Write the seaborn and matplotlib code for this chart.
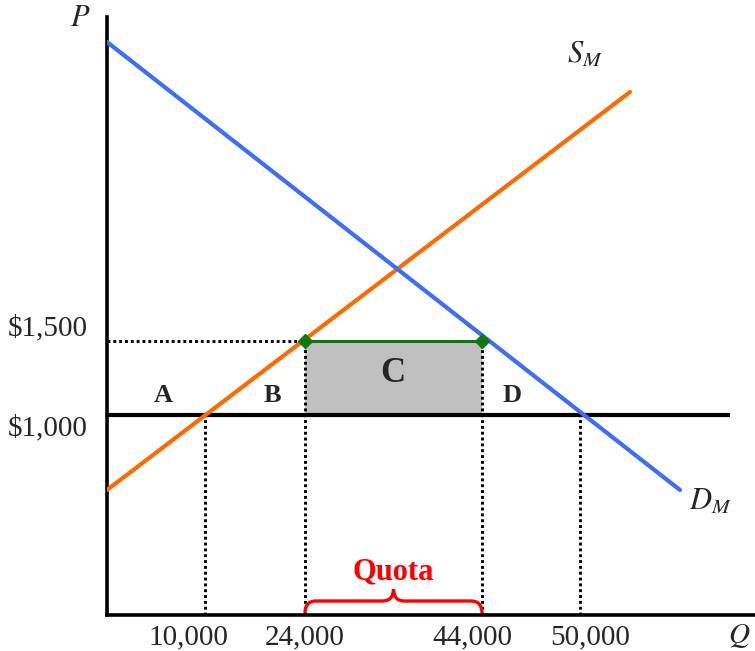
import numpy as np
import pandas as pd
import seaborn as sns
import matplotlib.pyplot as plt
from matplotlib.path import Path
from matplotlib.patches import PathPatch

# ----- schematic data (plot units ~ pixels from the origin) -----
supply_q = [0, 523]
supply_p = [125, 523]
demand_q = [0, 573]
demand_p = [573, 125]

world_price = 200        # $1,000
tariff_price = 274       # $1,500
world_line_end = 623

q_marks = [98, 198, 375, 473]
q_labels = ["10,000", "24,000", "44,000", "50,000"]
q_label_shift = [-17, 0, -10, 10]   # px nudges of the labels

p_marks = [tariff_price, world_price]
p_labels = ["$1,500", "$1,000"]
p_label_shift = [13, -13]

area_names = ["A", "B", "C", "D"]
area_q = [56, 165, 286, 405]
area_p = [220, 220, 242, 220]

BLUE = "#3d6ef5"
ORANGE = "#ff6a00"
GREEN = "#0b7a0b"

sns.set_theme(style="white")
plt.rcParams["font.family"] = ["Liberation Serif", "DejaVu Serif"]
plt.rcParams["mathtext.fontset"] = "stix"

fig = plt.figure(figsize=(7.55, 6.51), dpi=100)
ax = fig.add_axes([107 / 755, 36 / 651, 648 / 755, 598 / 651])
ax.set_xlim(0, 648)
ax.set_ylim(0, 598)

# gray area C
ax.fill_between([q_marks[1], q_marks[2]], world_price, tariff_price,
                color="#c0c0c0", zorder=1, linewidth=0)

dots = (0, (1, 1))
ax.plot([0, q_marks[2]], [tariff_price, tariff_price], color="black",
        lw=2.1, ls=dots, zorder=2)
for q in q_marks[1:3]:
    ax.plot([q, q], [0, tariff_price], color="black", lw=2.1, ls=dots, zorder=2)
for q in (q_marks[0], q_marks[3]):
    ax.plot([q, q], [0, world_price], color="black", lw=2.1, ls=dots, zorder=2)

# world price line
ax.plot([0, world_line_end], [world_price, world_price], color="black",
        lw=3, zorder=3, solid_capstyle="butt")

df_s = pd.DataFrame({"q": supply_q, "p": supply_p})
df_d = pd.DataFrame({"q": demand_q, "p": demand_p})
sns.lineplot(data=df_s, x="q", y="p", color=ORANGE, lw=3, sort=False, ax=ax, zorder=4)
sns.lineplot(data=df_d, x="q", y="p", color=BLUE, lw=3, sort=False, ax=ax, zorder=4)
ax.set_xlabel("")
ax.set_ylabel("")

# quota segment with diamonds
ax.plot([q_marks[1], q_marks[2]], [tariff_price, tariff_price], color=GREEN,
        lw=2.2, marker="D", markersize=7.5, zorder=5)

# red brace under the quota
x0, x1 = q_marks[1], q_marks[2]
xm = (x0 + x1) / 2
r, y0, h = 11, 2, 24
verts = [(x0, y0), (x0, y0 + h / 2), (x0 + r, y0 + h / 2),
         (xm - r, y0 + h / 2),
         (xm, y0 + h / 2), (xm, y0 + h),
         (xm, y0 + h / 2), (xm + r, y0 + h / 2),
         (x1 - r, y0 + h / 2),
         (x1, y0 + h / 2), (x1, y0)]
codes = [Path.MOVETO, Path.CURVE3, Path.CURVE3, Path.LINETO,
         Path.CURVE3, Path.CURVE3, Path.CURVE3, Path.CURVE3,
         Path.LINETO, Path.CURVE3, Path.CURVE3]
ax.add_patch(PathPatch(Path(verts, codes), fill=False, edgecolor="red",
                       lw=2.4, zorder=5, clip_on=False))
ax.text(xm, 43, "Quota", color="red", fontsize=22, fontweight="bold",
        ha="center", va="center")

for name, q, p in zip(area_names, area_q, area_p):
    ax.text(q, p, name, fontsize=25 if name == "C" else 19, fontweight="bold",
            ha="center", va="center", zorder=6)

# axis tick labels as text so they can sit where the original puts them
ax.set_xticks([])
ax.set_yticks([])
for q, lab, dx in zip(q_marks, q_labels, q_label_shift):
    ax.annotate(lab, (q, 0), xytext=(dx * 0.72, -16), textcoords="offset points",
                ha="center", va="center", fontsize=21, annotation_clip=False)
for p, lab, dy in zip(p_marks, p_labels, p_label_shift):
    ax.annotate(lab, (0, p), xytext=(-14, dy * 0.72), textcoords="offset points",
                ha="right", va="center", fontsize=21, annotation_clip=False)

ax.text(-27, 597, "$P$", fontsize=22, ha="center", va="center", clip_on=False)
ax.text(632, -21, "$Q$", fontsize=21, ha="center", va="center", clip_on=False)
ax.text(478, 560, "$S_M$", fontsize=22, ha="center", va="center")
ax.text(603, 113, "$D_M$", fontsize=22, ha="center", va="center")

sns.despine(ax=ax)
for s in ("left", "bottom"):
    ax.spines[s].set_linewidth(2.6)
    ax.spines[s].set_color("black")

fig.savefig("out.png", dpi=100)
